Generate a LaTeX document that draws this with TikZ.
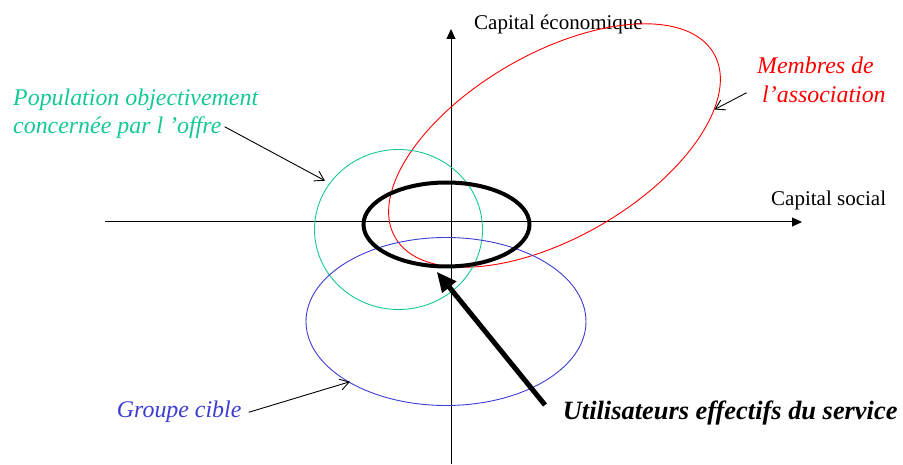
\documentclass[tikz,border=0pt]{standalone}
\usepackage{fontspec}
\setmainfont{Liberation Serif}
\usetikzlibrary{arrows.meta,shapes.geometric}
\definecolor{popgreen}{RGB}{20,200,150}
\definecolor{grpblue}{RGB}{60,60,210}
\definecolor{memred}{RGB}{255,0,0}
\tikzset{
  axis/.style={line width=1pt,-{Triangle[length=10pt,width=9pt]}},
  axislabel/.style={font=\fontsize{21}{24}\selectfont,anchor=base west,inner sep=0pt},
  itlabel/.style={font=\fontsize{23.9}{27}\selectfont\itshape,anchor=base west,inner sep=0pt},
  pointer/.style={line width=0.9pt,-{Straight Barb[length=9pt,width=11pt]}},
  bigpointer/.style={line width=5pt,-{Triangle[length=20pt,width=17pt]}},
  oval/.style={ellipse,draw,inner sep=0pt,line width=0.9pt}
}
\begin{document}
\begin{tikzpicture}[x=1pt,y=1pt]
\useasboundingbox (0,0) rectangle (903,464);
% axes
\coordinate (vbot) at (451,0);
\coordinate (vtop) at (451,435);
\coordinate (hleft) at (105,242);
\coordinate (hright) at (802,242);
\draw[axis] (vbot) -- (vtop);
\draw[axis] (hleft) -- (hright);
\node[axislabel] (ce) at (474,434) {Capital économique};
\node[axislabel] (cs) at (771,258) {Capital social};
% ellipses
\node[oval,draw=memred,minimum width=368pt,minimum height=184pt,rotate=30] (red) at (554.5,318.5) {};
\node[oval,draw=popgreen,minimum width=168pt,minimum height=160pt] (green) at (398.5,234.5) {};
\node[oval,draw=grpblue,minimum width=280pt,minimum height=168pt] (blue) at (446,142.5) {};
\node[oval,draw=black,line width=4pt,minimum width=166pt,minimum height=84pt] (users) at (446.5,239.5) {};
% labels
\node[itlabel,text=popgreen] (pop1) at (13,358) {Population objectivement};
\node[itlabel,text=popgreen] (pop2) at (13,330.7) {concernée par l ’offre};
\node[itlabel,text=memred] (mem1) at (757,390) {Membres de};
\node[itlabel,text=memred] (mem2) at (762,361.3) {l’association};
\node[itlabel,text=grpblue] (grp) at (116.7,46.7) {Groupe cible};
\node[font=\fontsize{26.4}{30}\selectfont\bfseries\itshape,anchor=base west,inner sep=0pt] (util) at (562.7,44.7) {Utilisateurs effectifs du service};
% pointer tips
\coordinate (popTip) at (325,283.3);
\coordinate (memTip) at (714.5,354.5);
\coordinate (grpTip) at (350,82.3);
\coordinate (utilTip) at (436.7,192.3);
\draw[pointer] ([shift={(3,6.6)}]pop2.base east) -- (popTip);
\draw[pointer] ([shift={(-15.3,10)}]mem2.base west) -- (memTip);
\draw[pointer] ([shift={(7,5)}]grp.base east) -- (grpTip);
\draw[bigpointer] ([shift={(-17.7,14.3)}]util.base west) -- (utilTip);
\end{tikzpicture}
\end{document}
